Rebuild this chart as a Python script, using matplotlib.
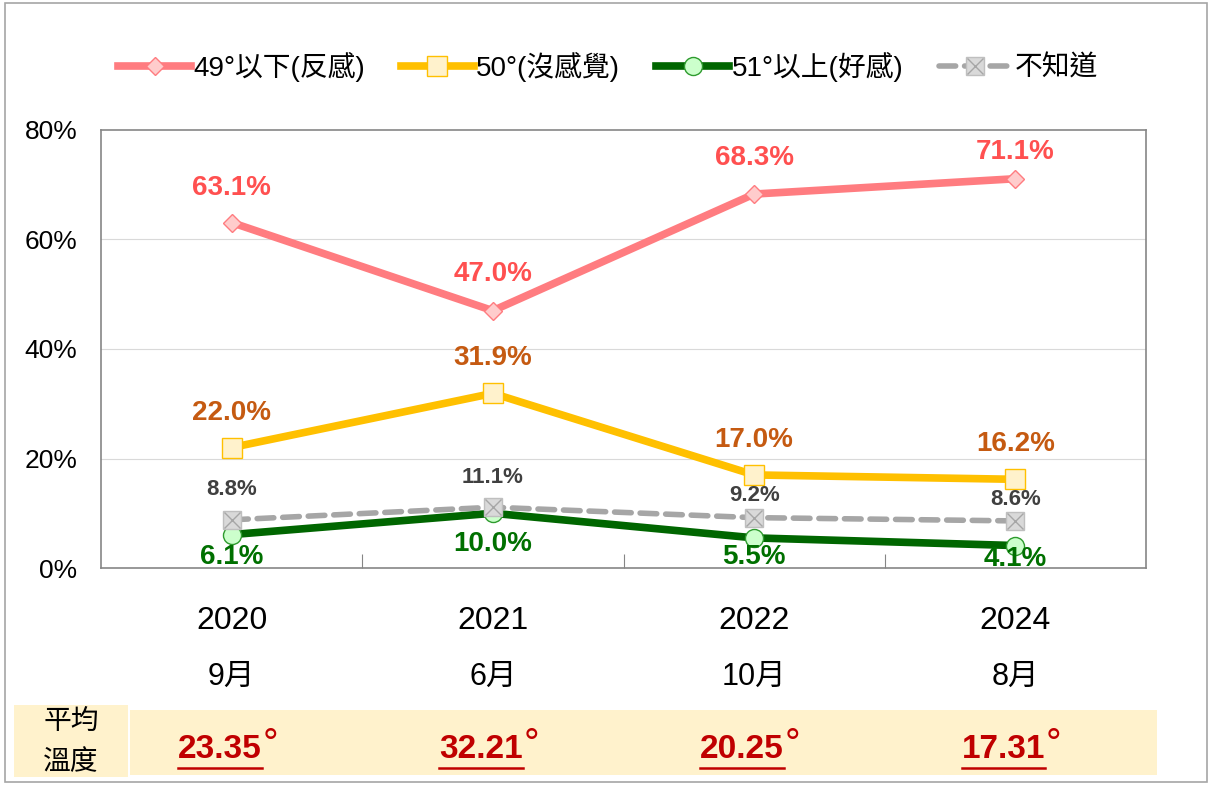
import matplotlib
matplotlib.use('Agg')
import matplotlib.pyplot as plt
from matplotlib.patches import Rectangle
from matplotlib.lines import Line2D
from matplotlib.legend_handler import HandlerTuple

# data
years = ['2020', '2021', '2022', '2024']
months = ['9月', '6月', '10月', '8月']
dislike = [63.1, 47.0, 68.3, 71.1]
neutral = [22.0, 31.9, 17.0, 16.2]
like = [6.1, 10.0, 5.5, 4.1]
unknown = [8.8, 11.1, 9.2, 8.6]
avg_temp = [23.35, 32.21, 20.25, 17.31]
series_names = ['49°以下(反感)', '50°(沒感覺)', '51°以上(好感)', '不知道']
y_ticks = [0, 20, 40, 60, 80]

plt.rcParams['font.family'] = ['Liberation Sans', 'Noto Sans CJK TC', 'DejaVu Sans']

W, H = 1213, 785


def fx(px):
    return px / W


def fy(py):
    return 1 - py / H


def label_points(ax, vals, color, size, dy):
    '''Puts value labels next to the points, dy in pixels.'''
    for i, v in enumerate(vals):
        off = dy[i] if isinstance(dy, list) else dy
        ax.annotate(f'{v:.1f}%', (i, v), xytext=(0, off * 0.72),
                    textcoords='offset points', ha='center', va='center',
                    color=color, fontsize=size, fontweight='bold',
                    annotation_clip=False, zorder=10)


def main():
    fig = plt.figure(figsize=(W / 100, H / 100), dpi=100)
    ax = fig.add_axes([fx(101), fy(568), fx(1146 - 101), (568 - 130) / H])
    x = list(range(len(years)))

    l_like, = ax.plot(x, like, color='#006600', lw=5.5, marker='o', ms=13,
                      mfc='#CCFFCC', mec='#2E9B2E', mew=1, zorder=3)
    l_unk, = ax.plot(x, unknown, color='#A6A6A6', lw=4, ls=(0, (3, 1.6)),
                     dash_capstyle='round', marker='s', ms=13,
                     mfc='#D9D9D9', mec='#BFBFBF', mew=1, zorder=4)
    l_unk_x, = ax.plot(x, unknown, ls='none', marker='x', ms=12,
                       mec='#A6A6A6', mew=1, zorder=5)
    l_neu, = ax.plot(x, neutral, color='#FFC000', lw=5.5, marker='s', ms=15,
                     mfc='#FFF2CC', mec='#FFC000', mew=1, zorder=6)
    l_dis, = ax.plot(x, dislike, color='#FF7C80', lw=5.5, marker='D', ms=9,
                     mfc='#FFCCCC', mec='#FF7C80', mew=1, zorder=7)

    label_points(ax, dislike, '#FF5050', 20, [35, 37, 36, 27])
    label_points(ax, neutral, '#C55A11', 20, 35)
    label_points(ax, like, '#007000', 20, [-22, -31, -19, -13])
    label_points(ax, unknown, '#404040', 16, [30, 30, 22, 21])

    ax.set_xlim(-0.5, len(years) - 0.5)
    ax.set_ylim(0, 80)
    ax.set_yticks(y_ticks)
    ax.set_yticklabels([f'{t}%' for t in y_ticks])
    ax.set_xticks([i + 0.5 for i in x[:-1]])
    ax.set_xticklabels([])
    ax.tick_params(axis='x', direction='in', length=10, color='#868686')
    ax.tick_params(axis='y', length=0, pad=17, labelsize=19)
    for t in y_ticks[1:-1]:
        ax.axhline(t, color='#D9D9D9', lw=0.8, zorder=0)
    for sp in ax.spines.values():
        sp.set_color('#868686')
        sp.set_linewidth(1.2)

    for i in x:
        ax.text(i, -0.122, years[i], transform=ax.get_xaxis_transform(),
                ha='center', va='center', fontsize=23)
        ax.text(i, -0.248, months[i], transform=ax.get_xaxis_transform(),
                ha='center', va='center', fontsize=22)

    handles = [l_dis, l_neu, l_like, (l_unk, l_unk_x)]
    fig.legend(handles, series_names, loc='center',
               bbox_to_anchor=(fx(608), fy(67)), ncol=4, frameon=False,
               fontsize=20, handlelength=2.6, handletextpad=0.1,
               columnspacing=1.3,
               handler_map={tuple: HandlerTuple(ndivide=1)})

    # bottom band with the average temperatures
    fig.patches.append(Rectangle((fx(130), fy(775)), fx(1157 - 130),
                                 (775 - 710) / H, transform=fig.transFigure,
                                 facecolor='#FFF2CC', edgecolor='none'))
    fig.patches.append(Rectangle((fx(14), fy(777)), fx(128 - 14),
                                 (777 - 705) / H, transform=fig.transFigure,
                                 facecolor='#FFF2CC', edgecolor='none'))
    fig.text(fx(71), fy(721), '平均', ha='center', va='center', fontsize=20,
             family=['Noto Sans CJK TC'])
    fig.text(fx(71), fy(762), '溫度', ha='center', va='center', fontsize=20,
             family=['Noto Sans CJK TC'])

    temp_texts = []
    for i, v in enumerate(avg_temp):
        xd = ax.transData.transform((i, 0))[0]
        t = fig.text(fx(xd - 12), fy(749), f'{v:.2f}', ha='center',
                     va='center', fontsize=24, fontweight='bold',
                     color='#C00000',
                     family=['Liberation Sans Narrow', 'Liberation Sans'])
        temp_texts.append(t)

    fig.canvas.draw()
    renderer = fig.canvas.get_renderer()
    for t in temp_texts:
        bb = t.get_window_extent(renderer)
        fig.add_artist(Line2D([bb.x0 / W, bb.x1 / W],
                              [(bb.y0 - 3) / H, (bb.y0 - 3) / H],
                              transform=fig.transFigure, color='#C00000',
                              lw=1.8))
        fig.text((bb.x1 + 1) / W, bb.y1 / H + 0.008, '°', ha='left',
                 va='top', fontsize=28, color='#C00000')

    # outer frame
    fig.patches.append(Rectangle((fx(5), fy(782)), fx(1207 - 5),
                                 (782 - 3) / H, transform=fig.transFigure,
                                 facecolor='none', edgecolor='#A6A6A6',
                                 lw=1.2))

    fig.savefig('out.png', dpi=100)


if __name__ == '__main__':
    main()
